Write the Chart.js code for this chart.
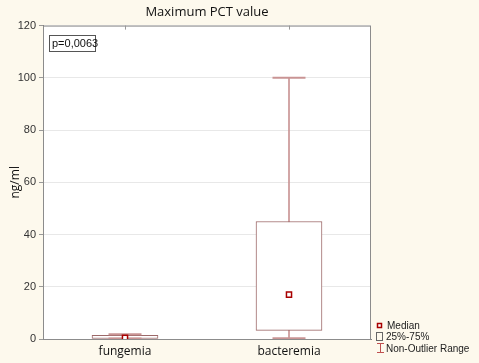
<!DOCTYPE html>
<html>
<head>
<meta charset="utf-8">
<script src="https://cdn.jsdelivr.net/npm/chart.js@4.4.1/dist/chart.umd.min.js"></script>
<style>
  body { margin: 0; background: #fdf9ed; }
  #wrap { width: 479px; height: 363px; position: relative; }
</style>
</head>
<body>
<div id="wrap"><canvas id="myChart"></canvas></div>
<script>
// box plot values (ng/ml)
var categories = ["fungemia", "bacteremia"];
var minVals = [0.2, 0.3];
var q1Vals = [0.2, 3.3];
var medianVals = [0.5, 17];
var q3Vals = [1.4, 45];
var maxVals = [1.8, 100];
var yTicks = [0, 20, 40, 60, 80, 100, 120];
var pText = "p=0,0063";

var boxColor = "#9c6868";
var whiskColor = "#c99494";
var medColor = "#a80000";

// white plot area with a frame, p value box and legend
var frame = {
	id : 'frame',
	beforeDraw : function(chart) {
		var a = chart.chartArea, c = chart.ctx;
		c.save();
		c.fillStyle = '#ffffff';
		c.fillRect(a.left, a.top, a.right - a.left, a.bottom - a.top);
		c.restore();
	},
	afterDraw : function(chart) {
		var a = chart.chartArea, c = chart.ctx;
		c.save();
		c.strokeStyle = '#8c8c8c';
		c.lineWidth = 1;
		c.strokeRect(a.left + 0.5, a.top + 0.5, a.right - a.left - 1, a.bottom - a.top);
		// p value
		c.fillStyle = '#ffffff';
		c.fillRect(49.5, 35.5, 46, 16);
		c.strokeStyle = '#555555';
		c.strokeRect(49.5, 35.5, 46, 16);
		c.fillStyle = '#111111';
		c.font = '11px "Liberation Sans", Arial, sans-serif';
		c.textBaseline = 'middle';
		c.fillText(pText, 52, 44);
		// legend
		c.fillStyle = '#ffffff';
		c.strokeStyle = medColor;
		c.lineWidth = 1.5;
		c.fillRect(377.5, 323.5, 4, 4);
		c.strokeRect(377.5, 323.5, 4, 4);
		c.lineWidth = 1;
		c.strokeStyle = '#666666';
		c.strokeRect(376.5, 332.5, 6, 8);
		c.strokeStyle = '#c05050';
		c.beginPath();
		c.moveTo(377, 343.5); c.lineTo(384, 343.5);
		c.moveTo(380.5, 343.5); c.lineTo(380.5, 352.5);
		c.moveTo(377, 352.5); c.lineTo(384, 352.5);
		c.stroke();
		c.fillStyle = '#222222';
		c.font = '10px "Liberation Sans", Arial, sans-serif';
		c.fillText('Median', 387, 326);
		c.fillText('25%-75%', 386, 337);
		c.fillText('Non-Outlier Range', 386, 349);
		// small ticks at the top edge
		c.strokeStyle = '#999999';
		var xs = chart.scales.x;
		categories.forEach(function(cat, i) {
			var px = Math.round(xs.getPixelForValue(i)) + 0.5;
			c.beginPath();
			c.moveTo(px, a.top); c.lineTo(px, a.top + 4);
			c.stroke();
		});
		c.restore();
	}
};

var ctx = document.getElementById("myChart").getContext('2d');
var myChart = new Chart(ctx, {
	type : 'bar',
	data : {
		labels : categories,
		datasets : [ {
			label : 'Non-Outlier Range',
			data : categories.map(function(c, i) { return [minVals[i], maxVals[i]]; }),
			backgroundColor : whiskColor,
			barThickness : 1,
			grouped : false,
			order : 4
		}, {
			label : '25%-75%',
			data : categories.map(function(c, i) { return [q1Vals[i], q3Vals[i]]; }),
			backgroundColor : '#ffffff',
			borderColor : boxColor,
			borderWidth : 1,
			borderSkipped : false,
			barThickness : 66,
			grouped : false,
			order : 3
		}, {
			type : 'line',
			label : 'max',
			data : maxVals,
			showLine : false,
			pointStyle : 'line',
			pointRadius : 16.5,
			pointHoverRadius : 16.5,
			borderColor : whiskColor,
			pointBorderWidth : 2,
			order : 2
		}, {
			type : 'line',
			label : 'min',
			data : minVals,
			showLine : false,
			pointStyle : 'line',
			pointRadius : 16.5,
			pointHoverRadius : 16.5,
			borderColor : whiskColor,
			pointBorderWidth : 2,
			order : 2
		}, {
			type : 'line',
			label : 'Median',
			data : medianVals,
			showLine : false,
			pointStyle : 'rect',
			pointRadius : 3.6,
			backgroundColor : '#ffffff',
			borderColor : medColor,
			pointBorderWidth : 1.5,
			order : 1
		} ]
	},
	options : {
		responsive : true,
		maintainAspectRatio : false,
		animation : false,
		layout : {
			padding : { right : 108, left : 0, top : 0, bottom : 0 }
		},
		plugins : {
			legend : { display : false },
			tooltip : { enabled : false },
			title : {
				display : true,
				fullSize : false,
				text : 'Maximum PCT value',
				color : '#111111',
				font : { family : '"Open Sans", sans-serif', size : 13, weight : 'normal', lineHeight : 1.2 },
				padding : { top : 4, bottom : 6 }
			}
		},
		scales : {
			x : {
				offset : true,
				grid : { display : false, drawTicks : false },
				border : { color : '#808080' },
				ticks : {
					color : '#111111',
					padding : 5,
					font : { family : '"Open Sans", sans-serif', size : 12 }
				},
				afterFit : function(s) { s.height = 24; }
			},
			y : {
				min : 0,
				max : 120,
				afterBuildTicks : function(s) {
					s.ticks = yTicks.map(function(v) { return { value : v }; });
				},
				grid : { color : '#e8e8e8', tickColor : '#999999', tickLength : 4 },
				border : { color : '#808080' },
				ticks : {
					color : '#333333',
					padding : 3,
					font : { family : '"Liberation Sans", Arial, sans-serif', size : 11 }
				},
				title : {
					display : true,
					text : 'ng/ml',
					color : '#111111',
					font : { family : '"Open Sans", sans-serif', size : 12 },
					padding : { top : 8, bottom : 0 }
				},
				afterFit : function(s) { s.width = 43; }
			}
		}
	},
	plugins : [ frame ]
});
</script>
</body>
</html>
